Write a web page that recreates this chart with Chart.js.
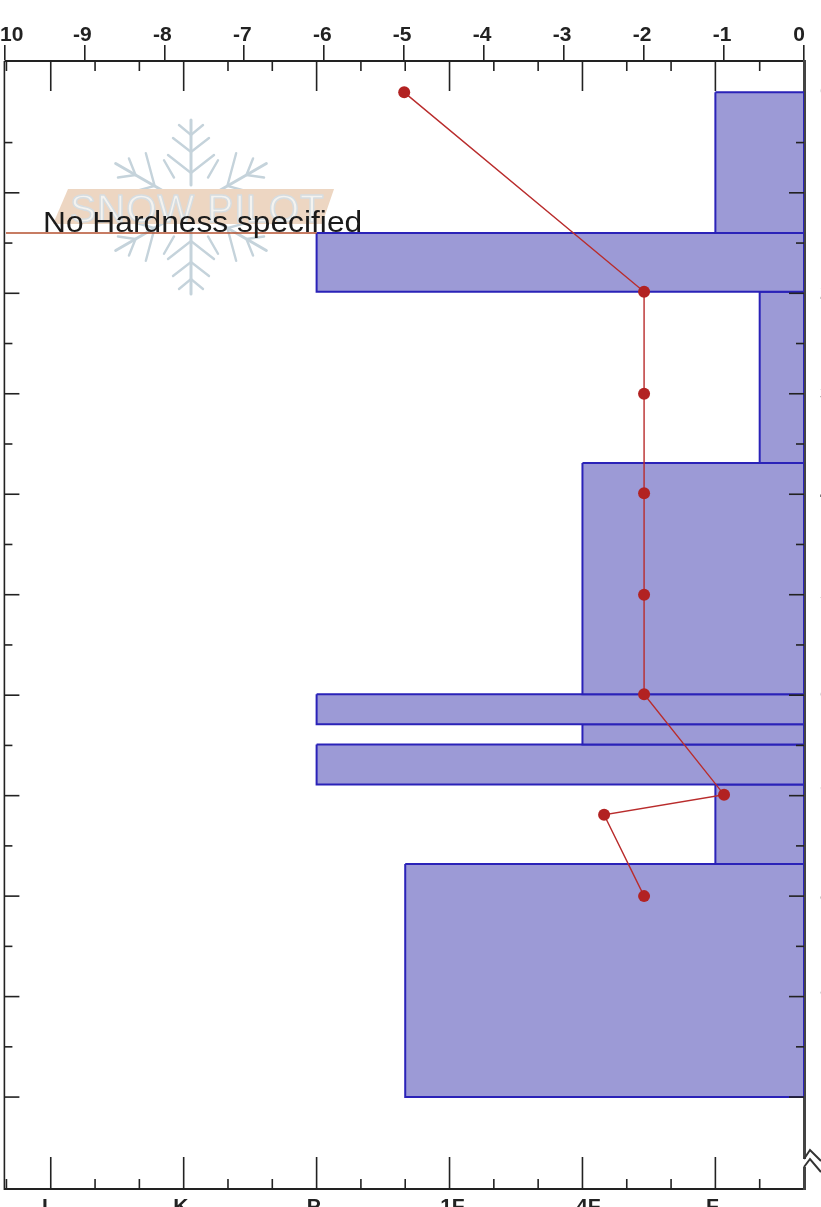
<!DOCTYPE html>
<html>
<head>
<meta charset="utf-8">
<title>Snow profile</title>
<script src="https://cdn.jsdelivr.net/npm/chart.js@4"></script>
<style>
  html, body { margin: 0; padding: 0; background: #fff; overflow: hidden; }
  canvas { display: block; }
</style>
</head>
<body>
<canvas id="profile" width="821" height="1207"></canvas>
<script>
// temperature profile
const tempDepth = [ 0, 19.85, 30, 39.9, 50, 59.9, 69.9, 71.9, 80 ];
const tempValue = [ -5, -2, -2, -2, -2, -2, -1, -2.5, -2 ];

// layers, hardness in thirds of a step counted from the right edge
const layerTop      = [ 0, 14, 19.85, 36.9, 59.9, 62.9, 64.9, 68.9, 76.8 ];
const layerBottom   = [ 14, 19.85, 36.9, 59.9, 62.9, 64.9, 68.9, 76.8, 100 ];
const layerHardness = [ 2, 11, 1, 5, 11, 5, 11, 2, 9 ];

// axes
const tempTicks     = [ -10, -9, -8, -7, -6, -5, -4, -3, -2, -1, 0 ];
const hardnessTicks = [ 17, 14, 11, 8, 5, 2 ];
const hardnessNames = [ 'I', 'K', 'P', '1F', '4F', 'F' ];
const hardnessMinor = [ 18, 16, 15, 13, 12, 10, 9, 7, 6, 4, 3, 1 ];
const depthLabels   = [ 0, 10, 20, 30, 40, 50, 60, 70, 80, 90 ];
const depthMajor    = [ 10, 20, 30, 40, 50, 60, 70, 80, 90, 100 ];
const depthMinor    = [ 5, 15, 25, 35, 45, 55, 65, 75, 85, 95 ];

// layer without a hardness value
const noHardnessDepth = 14;
const noHardnessFrom  = 18.07;
const noHardnessTo    = 11;
const noHardnessLabel = 'No Hardness specified';

const INK = '#222';
const boldFont = { family: '"Liberation Sans", Arial, sans-serif', size: 21, weight: 'bold' };

// pad a tick label with spaces so it sits off centre like the original
const pad = ( text, before, after ) => ' '.repeat( before ) + text + ' '.repeat( after );
const tempPad = { '-10': [ 2, 0 ], '0': [ 0, 1 ] };
const hardPad = { 'I': [ 0, 2 ], 'K': [ 0, 1 ], 'P': [ 0, 1 ], '1F': [ 1, 0 ], '4F': [ 2, 0 ], 'F': [ 0, 1 ] };

const fixed = ( side, size ) => ( scale ) => {
    scale[ side ] = size;
    scale.paddingLeft = scale.paddingRight = scale.paddingTop = scale.paddingBottom = 0;
};
const setTicks = ( values ) => ( scale ) => { scale.ticks = values.map( v => ({ value: v }) ); };

const layerSets = layerHardness.map( ( h, i ) => ({
    type: 'scatter',
    xAxisID: 'xHard',
    yAxisID: 'y',
    order: 2,
    data: [
        { x: h, y: layerTop[ i ] },
        { x: 0, y: layerTop[ i ] },
        { x: 0, y: layerBottom[ i ] },
        { x: h, y: layerBottom[ i ] },
        { x: h, y: layerTop[ i ] }
    ],
    showLine: true,
    fill: 'shape',
    backgroundColor: '#9c9ad6',
    borderColor: '#2a22b8',
    borderWidth: 2,
    pointRadius: 0
}) );

const noHardnessSet = {
    type: 'scatter',
    xAxisID: 'xHard',
    yAxisID: 'y',
    order: 1,
    data: [ { x: noHardnessFrom, y: noHardnessDepth }, { x: noHardnessTo, y: noHardnessDepth } ],
    showLine: true,
    borderColor: '#b5502f',
    borderWidth: 1.6,
    pointRadius: 0
};

const tempSet = {
    type: 'scatter',
    xAxisID: 'xTemp',
    yAxisID: 'y',
    order: 0,
    data: tempValue.map( ( t, i ) => ({ x: t, y: tempDepth[ i ] }) ),
    showLine: true,
    borderColor: '#b92c2c',
    borderWidth: 1.4,
    pointRadius: 6,
    pointBorderWidth: 0,
    pointBackgroundColor: '#b22222'
};

// faint logo behind the data
const watermark = {
    id: 'watermark',
    beforeDatasetsDraw( chart ) {
        const ctx = chart.ctx;
        ctx.save();
        ctx.translate( 191, 207 );
        ctx.strokeStyle = '#c5d3db';
        ctx.lineCap = 'round';
        for ( let a = 0; a < 6; a++ ) {
            ctx.save();
            ctx.rotate( a * Math.PI / 3 );
            ctx.lineWidth = 3;
            ctx.beginPath();
            ctx.moveTo( 0, -22 );
            ctx.lineTo( 0, -87 );
            ctx.stroke();
            ctx.lineWidth = 2.4;
            const upright = a % 3 === 0;
            const branches = upright
                ? [ [ -34, 23, 18 ], [ -55, 18, 14 ], [ -72, 12, 10 ] ]
                : [ [ -42, 24, 24 ], [ -64, 11, 14 ] ];
            branches.forEach( ( [ r, dx, dy ] ) => {
                ctx.beginPath();
                ctx.moveTo( -dx, r - dy );
                ctx.lineTo( 0, r );
                ctx.lineTo( dx, r - dy );
                ctx.stroke();
            });
            if ( a % 3 !== 1 ) {
                ctx.rotate( Math.PI / 6 );
                ctx.beginPath();
                ctx.moveTo( 0, -34 );
                ctx.lineTo( 0, -54 );
                ctx.stroke();
            }
            ctx.restore();
        }
        ctx.restore();

        ctx.save();
        ctx.fillStyle = '#edd6c2';
        ctx.beginPath();
        ctx.moveTo( 68, 189 );
        ctx.lineTo( 334, 189 );
        ctx.lineTo( 322, 224 );
        ctx.lineTo( 53, 224 );
        ctx.closePath();
        ctx.fill();
        ctx.font = '39px "Liberation Sans", Arial, sans-serif';
        ctx.letterSpacing = '1px';
        ctx.textBaseline = 'alphabetic';
        ctx.lineJoin = 'round';
        ctx.fillStyle = '#f4f3f0';
        ctx.fillText( 'SNOW PILOT', 70, 222 );
        ctx.strokeStyle = '#d6dde1';
        ctx.lineWidth = 1.4;
        ctx.strokeText( 'SNOW PILOT', 70, 222 );
        ctx.restore();
    }
};

// inside ticks, the note, the axis break
const furniture = {
    id: 'furniture',
    afterDatasetsDraw( chart ) {
        const ctx = chart.ctx;
        const area = chart.chartArea;
        const xh = chart.scales.xHard;
        const y = chart.scales.y;
        const leftEdge = chart.scales.xTemp.getPixelForValue( tempTicks[ 0 ] );
        ctx.save();
        ctx.strokeStyle = INK;
        ctx.lineWidth = 1.6;
        const tick = ( x1, y1, x2, y2 ) => {
            ctx.beginPath();
            ctx.moveTo( x1, y1 );
            ctx.lineTo( x2, y2 );
            ctx.stroke();
        };
        tick( leftEdge, area.top, leftEdge, area.bottom + 1 );
        tick( leftEdge, area.top, area.left, area.top );
        tick( leftEdge, area.bottom, area.left, area.bottom );
        hardnessTicks.forEach( v => {
            const x = xh.getPixelForValue( v );
            tick( x, area.top, x, area.top + 30 );
            tick( x, area.bottom, x, area.bottom - 32 );
        });
        hardnessMinor.forEach( v => {
            const x = xh.getPixelForValue( v );
            tick( x, area.top, x, area.top + 10 );
            tick( x, area.bottom, x, area.bottom - 10 );
        });
        depthMajor.forEach( v => {
            const p = y.getPixelForValue( v );
            tick( leftEdge, p, leftEdge + 15, p );
            tick( area.right, p, area.right - 15, p );
        });
        depthMinor.forEach( v => {
            const p = y.getPixelForValue( v );
            tick( leftEdge, p, leftEdge + 8, p );
            tick( area.right, p, area.right - 8, p );
        });

        ctx.fillStyle = '#1a1a1a';
        ctx.font = '29px "Liberation Sans", Arial, sans-serif';
        ctx.textBaseline = 'alphabetic';
        ctx.translate( 43, y.getPixelForValue( noHardnessDepth ) - 1 );
        ctx.scale( 1.094, 1 );
        ctx.fillText( noHardnessLabel, 0, 0 );
        ctx.restore();
    },
    afterDraw( chart ) {
        const ctx = chart.ctx;
        const r = chart.chartArea.right;
        const b = chart.chartArea.bottom;
        ctx.save();
        ctx.fillStyle = '#fff';
        ctx.fillRect( r - 2, b - 30, 4, 8 );
        ctx.strokeStyle = '#333';
        ctx.lineWidth = 2;
        ctx.beginPath();
        ctx.moveTo( r, b - 30 );
        ctx.lineTo( r + 6, b - 39 );
        ctx.lineTo( r + 17, b - 28 );
        ctx.moveTo( r, b - 22 );
        ctx.lineTo( r + 6, b - 30 );
        ctx.lineTo( r + 17, b - 17 );
        ctx.stroke();
        ctx.restore();
    }
};

const chart = new Chart( document.getElementById( 'profile' ), {
    data: { datasets: [ tempSet, noHardnessSet, ...layerSets ] },
    plugins: [ watermark, furniture ],
    options: {
        responsive: false,
        animation: false,
        layout: { padding: 0 },
        plugins: { legend: { display: false }, title: { display: false }, tooltip: { enabled: false } },
        scales: {
            xTemp: {
                type: 'linear',
                position: 'top',
                min: -9.98,
                max: 0,
                afterBuildTicks: setTicks( tempTicks ),
                afterFit: fixed( 'height', 61 ),
                border: { color: INK, width: 2 },
                grid: { drawOnChartArea: false, color: INK, lineWidth: 1.6, tickLength: 16 },
                ticks: {
                    font: boldFont,
                    color: '#222',
                    padding: -3,
                    labelOffset: -2,
                    maxRotation: 0,
                    autoSkip: false,
                    callback: v => {
                        const p = tempPad[ v ] || [ 0, 0 ];
                        return pad( String( v ), p[ 0 ], p[ 1 ] );
                    }
                }
            },
            xHard: {
                type: 'linear',
                position: 'bottom',
                reverse: true,
                min: 0,
                max: 18.01,
                afterBuildTicks: setTicks( hardnessTicks ),
                afterFit: fixed( 'height', 18 ),
                border: { color: INK, width: 2 },
                grid: { drawOnChartArea: false, drawTicks: false },
                ticks: {
                    font: boldFont,
                    color: '#222',
                    padding: 6,
                    maxRotation: 0,
                    autoSkip: false,
                    callback: v => {
                        const name = hardnessNames[ hardnessTicks.indexOf( v ) ];
                        const p = hardPad[ name ] || [ 0, 0 ];
                        return pad( name, p[ 0 ], p[ 1 ] );
                    }
                }
            },
            y: {
                type: 'linear',
                position: 'right',
                reverse: true,
                min: -3.12,
                max: 109.15,
                z: 1,
                afterBuildTicks: setTicks( depthLabels ),
                afterFit: fixed( 'width', 17 ),
                border: { color: '#444', width: 3 },
                grid: { drawOnChartArea: false, drawTicks: false },
                ticks: { font: boldFont, color: '#444', padding: 16, autoSkip: false }
            },
            yLeft: {
                type: 'linear',
                position: 'left',
                reverse: true,
                min: -3.12,
                max: 109.15,
                afterFit: fixed( 'width', 2 ),
                border: { display: false },
                grid: { display: false },
                ticks: { display: false }
            }
        }
    }
});
</script>
</body>
</html>
